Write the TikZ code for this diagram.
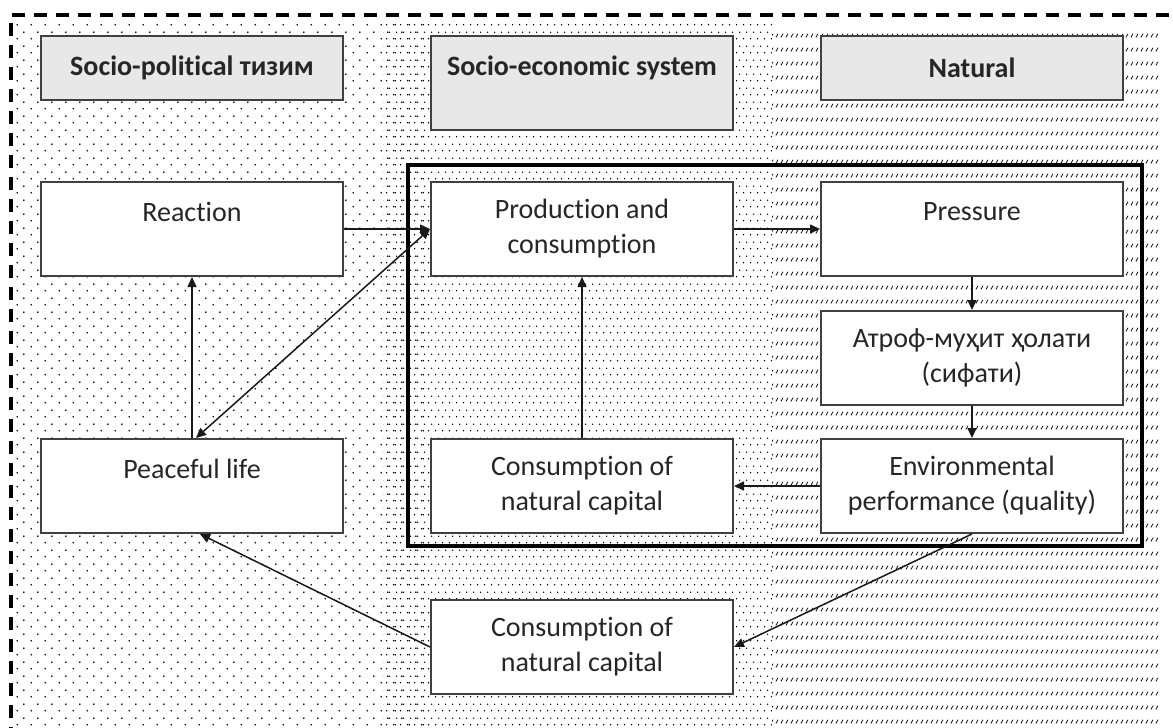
\documentclass[tikz,border=0pt]{standalone}
\usepackage{fontspec}
\setmainfont{Carlito}[Ligatures=NoCommon]
\usetikzlibrary{positioning, arrows.meta, patterns, fit}

\pgfdeclarepatternformonly{sparsedots}{\pgfqpoint{0pt}{0pt}}{\pgfqpoint{7pt}{7pt}}{\pgfqpoint{7pt}{7pt}}{%
  \pgfpathcircle{\pgfqpoint{1.75pt}{1.75pt}}{0.5pt}%
  \pgfpathcircle{\pgfqpoint{5.25pt}{5.25pt}}{0.5pt}%
  \pgfusepath{fill}}
\pgfdeclarepatternformonly{densedots}{\pgfqpoint{0pt}{0pt}}{\pgfqpoint{3.5pt}{7pt}}{\pgfqpoint{3.5pt}{7pt}}{%
  \pgfpathcircle{\pgfqpoint{0.875pt}{1.75pt}}{0.42pt}%
  \pgfpathcircle{\pgfqpoint{2.625pt}{5.25pt}}{0.42pt}%
  \pgfusepath{fill}}
\pgfdeclarepatternformonly{slashrows}{\pgfqpoint{0pt}{0pt}}{\pgfqpoint{2.35pt}{6.75pt}}{\pgfqpoint{2.35pt}{6.75pt}}{%
  \pgfsetlinewidth{0.4pt}%
  \pgfpathmoveto{\pgfqpoint{0.5pt}{2.4pt}}%
  \pgfpathlineto{\pgfqpoint{1.6pt}{4.3pt}}%
  \pgfusepath{stroke}}

\begin{document}
\begin{tikzpicture}[
    x=0.5pt, y=-0.5pt,
    node distance=43pt,
    >={Triangle[length=5pt, width=4.5pt]},
    every node/.style={font=\fontsize{14}{17.5}\selectfont, text=black!85},
    box/.style={rectangle, draw=black!75, line width=1pt, fill=white, minimum width=151pt, minimum height=47pt, align=center, inner sep=0pt},
    headbox/.style={box, fill=black!9, minimum height=32pt, font=\fontsize{14}{17.5}\selectfont\bfseries},
    arrow/.style={->, line width=0.75pt, black!90},
    twoway/.style={<->, line width=0.75pt, black!90},
    border/.style={dash pattern=on 6.5pt off 4.5pt, line width=2pt}
]
    \useasboundingbox (0,0) rectangle (1173,728);
    \clip (0,0) rectangle (1173,728);

    % Backgrounds
    \fill[pattern=sparsedots] (15,20) rectangle (427,728);
    \fill[pattern=densedots] (383,20) rectangle (772,728);
    \fill[pattern=slashrows] (772,28) rectangle (1160,728);
    \draw[border] (11,740) -- (11,15) -- (1185,15);

    % Headers
    \node[headbox] (hsoc) at (192,68) {Socio-political тизим};
    \node[headbox, minimum height=47pt, anchor=north west] (hecon) at ([xshift=43pt]hsoc.north east) {Socio-economic system\\\mbox{}};
    \node[headbox, anchor=north west] (hnat) at ([xshift=43pt]hecon.north east) {Natural};

    % Boxes
    \node[box, below=40pt of hsoc] (react) {Reaction\\\mbox{}};
    \node[box, right=of react] (prod) {Production and\\consumption};
    \node[box, right=of prod] (press) {Pressure\\\mbox{}};
    \node[box, below=16.5pt of press] (state) {Атроф-муҳит ҳолати\\(сифати)};
    \node[box, below=16pt of state] (perf) {Environmental\\performance (quality)};
    \node[box, left=of perf] (natcap) {Consumption of\\natural capital};
    \node[box, left=of natcap] (peace) {Peaceful life\\\mbox{}};
    \node[box, below=32.5pt of natcap] (natcapb) {Consumption of\\natural capital};

    % Frame
    \coordinate (frametl) at ([xshift=-11pt, yshift=8pt]prod.north west);
    \coordinate (framebr) at ([xshift=9pt, yshift=-6pt]perf.south east);
    \node[fit=(frametl)(framebr), draw, line width=2pt, inner sep=0pt] (frame) {};

    % Arrows
    \draw[arrow] (react) -- (prod);
    \draw[arrow] (peace) -- (react);
    \draw[twoway] (prod.west) -- ([xshift=2pt]peace.north);
    \draw[arrow] (prod) -- (press);
    \draw[arrow] (press) -- (state);
    \draw[arrow] (state) -- (perf);
    \draw[arrow] (perf) -- (natcap);
    \draw[arrow] (natcap) -- (prod);
    \draw[arrow] (perf.south) -- (natcapb.east);
    \draw[arrow] (natcapb.west) -- ([xshift=4pt]peace.south);

\end{tikzpicture}
\end{document}
